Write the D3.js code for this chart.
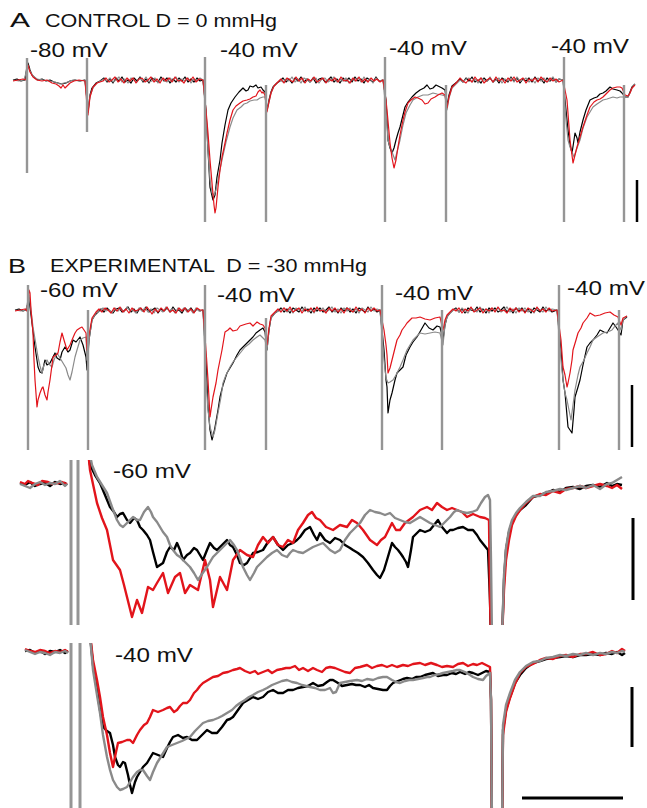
<!DOCTYPE html>
<html>
<head>
<script src="https://cdnjs.cloudflare.com/ajax/libs/d3/7.8.5/d3.min.js"></script>
<style>
  body { margin: 0; background: #fff; }
  svg { display: block; font-family: "Liberation Sans", Arial, sans-serif; }
</style>
</head>
<body>
<svg id="fig" width="647" height="808"></svg>
<script>
// time in ms (t), membrane current in pA (i); one pair per sample

// ---- A: control, four sweeps in a row
const aBlack = [[3,0],[7,10],[11,-10],[15,0],[17,140],[18,170],[20,100],[22,50],[25,20],[28,0],[32,10],[36,-10],[40,0],[44,-20],[48,-30],[52,-40],[56,-30],[60,-10],[65,0],[70,-10],[75,0],[77,-200],[78,-320],[80,-150],[82,-80],[86,-30],[90,-10],
  [94,20],[97,-20],[100,10],[103,-30],[106,20],[109,-10],[112,30],[115,-20],[118,0],[121,-30],[124,20],[127,-10],[130,30],[133,-20],[136,10],[139,-30],[142,20],[145,0],[148,-20],[151,30],[154,-10],[157,20],[160,-30],[163,10],[166,-20],[169,20],[172,-10],[175,30],[178,-20],[181,10],[184,-20],[187,20],[190,-10],[193,0],
  [196,-300],[198,-700],[200,-1070],[203,-1200],[205,-1150],[207,-970],[210,-800],[212,-630],[215,-450],[218,-300],[221,-230],[225,-170],[229,-120],[233,-80],[236,-110],[238,-100],[240,-60],[243,-70],[246,-50],[248,-80],[251,-70],[253,-100],[255,-120],[257,-300],[259,-200],[261,-120],[263,-70],[267,-30],
  [270,-10],[273,20],[276,-20],[279,10],[282,-30],[285,20],[288,-10],[291,30],[294,-20],[297,10],[300,-20],[303,20],[306,-30],[309,10],[312,20],[315,-20],[318,0],[321,30],[324,-20],[327,10],[330,-30],[333,20],[336,-10],[339,20],[342,-20],[345,30],[348,-10],[351,10],[354,-30],[357,20],[360,0],[363,-20],[366,30],[369,-10],[373,0],
  [376,-200],[378,-600],[380,-680],[382,-730],[384,-680],[386,-600],[388,-530],[390,-470],[393,-350],[395,-270],[398,-220],[402,-170],[406,-130],[410,-100],[414,-80],[417,-50],[420,-90],[423,-80],[426,-50],[428,-60],[432,-80],[435,-100],[437,-250],[439,-150],[442,-60],[447,-20],
  [450,10],[453,-20],[456,20],[459,-10],[462,30],[465,-20],[468,0],[471,-30],[474,20],[477,-10],[480,20],[483,-20],[486,10],[489,-30],[492,20],[495,0],[498,-20],[501,30],[504,-10],[507,20],[510,-30],[513,10],[516,-10],[519,20],[522,-20],[525,30],[528,-10],[531,10],[534,-30],[537,20],[540,-10],[543,20],[546,-20],[549,10],[553,0],
  [556,-300],[558,-500],[560,-650],[562,-730],[564,-600],[565,-530],[567,-580],[568,-630],[570,-520],[573,-400],[576,-300],[580,-200],[584,-180],[587,-170],[590,-140],[593,-130],[596,-110],[600,-70],[603,-90],[607,-100],[610,-110],[612,-130],[615,-170],[618,-170],[620,-120],[622,-70],[625,-40]];
const aRed = [[3,-10],[8,0],[13,10],[16,0],[18,150],[20,80],[23,30],[27,0],[32,-10],[37,0],[42,-30],[46,-40],[49,-60],[51,-80],[53,-50],[55,-80],[57,-60],[60,-30],[64,-10],[69,0],[75,-10],[77,-250],[78,-350],[80,-170],[83,-70],[87,-30],
  [93,-10],[96,20],[99,-20],[102,0],[105,30],[108,-20],[111,10],[114,-30],[117,20],[120,-10],[123,20],[126,-30],[129,10],[132,20],[135,-20],[138,0],[141,30],[144,-20],[147,10],[150,-30],[153,20],[156,-10],[159,20],[162,-20],[165,30],[168,-10],[171,0],[174,-30],[177,20],[180,-10],[183,30],[186,-20],[189,10],[193,0],
  [196,-300],[198,-530],[200,-800],[202,-1030],[204,-1250],[205,-1330],[206,-1280],[208,-1070],[210,-900],[212,-770],[215,-630],[217,-530],[220,-400],[223,-300],[226,-260],[230,-230],[233,-210],[237,-200],[240,-190],[243,-170],[246,-160],[248,-120],[250,-100],[252,-130],[253,-120],[255,-150],[257,-320],[259,-220],[261,-130],[264,-60],
  [268,-20],[271,10],[274,-30],[277,20],[280,0],[283,-20],[286,30],[289,-10],[292,20],[295,-30],[298,10],[301,-10],[304,30],[307,-20],[310,0],[313,20],[316,-30],[319,10],[322,-10],[325,20],[328,-20],[331,30],[334,-10],[337,0],[340,-30],[343,20],[346,-10],[349,30],[352,-20],[355,10],[358,-20],[361,20],[364,-10],[367,10],[370,-20],[373,0],
  [376,-200],[377,-300],[380,-630],[382,-780],[384,-880],[386,-800],[388,-670],[390,-550],[393,-400],[395,-320],[398,-230],[401,-200],[405,-170],[408,-180],[412,-200],[415,-240],[418,-230],[421,-190],[425,-170],[428,-150],[432,-130],[435,-150],[437,-280],[439,-170],[442,-70],
  [447,-20],[450,20],[453,-10],[456,-30],[459,10],[462,-20],[465,30],[468,-10],[471,20],[474,-30],[477,0],[480,20],[483,-20],[486,30],[489,-10],[492,10],[495,-30],[498,20],[501,-10],[504,30],[507,-20],[510,0],[513,20],[516,-30],[519,10],[522,-10],[525,20],[528,-20],[531,30],[534,0],[537,-20],[540,20],[543,-10],[546,10],[549,-20],[553,0],
  [556,-150],[557,-200],[560,-600],[563,-830],[565,-750],[567,-670],[570,-570],[573,-470],[577,-350],[580,-270],[584,-220],[587,-200],[590,-190],[593,-170],[597,-130],[600,-100],[603,-80],[607,-70],[610,-70],[612,-80],[615,-150],[618,-160],[620,-130],[622,-80],[625,-50]];
const aGrey = [[3,0],[9,-10],[14,0],[18,140],[20,90],[23,40],[27,10],[33,0],[39,-10],[45,-20],[50,-40],[54,-30],[58,-20],[63,0],[69,-10],[75,0],[77,-200],[78,-300],[80,-160],[83,-80],[87,-30],
  [94,10],[97,-10],[100,20],[103,-20],[106,0],[109,30],[112,-20],[115,10],[118,-30],[121,20],[124,0],[127,-20],[130,20],[133,-10],[136,30],[139,-20],[142,-10],[145,20],[148,-30],[151,10],[154,0],[157,-20],[160,20],[163,-10],[166,30],[169,-20],[172,10],[175,-10],[178,20],[181,-30],[184,10],[187,-10],[190,20],[193,0],
  [196,-350],[198,-700],[200,-1000],[202,-1130],[204,-1150],[206,-1100],[209,-950],[212,-800],[216,-620],[220,-470],[223,-380],[227,-300],[231,-270],[234,-240],[237,-230],[240,-210],[244,-200],[247,-200],[250,-180],[253,-170],[255,-170],[257,-300],[259,-220],[261,-130],[264,-60],[268,-20],
  [270,0],[273,-20],[276,10],[279,-10],[282,30],[285,-20],[288,10],[291,-30],[294,20],[297,0],[300,-20],[303,10],[306,20],[309,-30],[312,10],[315,20],[318,-20],[321,0],[324,30],[327,-20],[330,10],[333,-10],[336,20],[339,-30],[342,10],[345,-10],[348,20],[351,-20],[354,30],[357,-10],[360,10],[363,-30],[366,20],[369,-10],[373,0],
  [376,-300],[378,-600],[380,-670],[382,-720],[385,-800],[387,-720],[390,-600],[393,-450],[396,-330],[400,-250],[403,-200],[408,-170],[413,-150],[418,-150],[423,-130],[427,-140],[432,-150],[435,-160],[437,-300],[439,-180],[442,-80],[447,-30],
  [450,0],[453,-20],[456,10],[459,20],[462,-20],[465,10],[468,-30],[471,20],[474,0],[477,-10],[480,30],[483,-20],[486,0],[489,20],[492,-30],[495,10],[498,-10],[501,20],[504,-20],[507,30],[510,-10],[513,0],[516,20],[519,-20],[522,10],[525,-30],[528,20],[531,-10],[534,20],[537,-20],[540,0],[543,30],[546,-20],[549,10],[553,0],
  [556,-400],[558,-600],[560,-670],[562,-720],[564,-770],[567,-680],[570,-600],[573,-480],[577,-370],[580,-320],[583,-270],[587,-240],[590,-220],[593,-200],[597,-190],[600,-180],[603,-170],[607,-180],[610,-170],[612,-170],[615,-170],[618,-170],[620,-130],[622,-80],[625,-40]];
// stimulus artefacts: [t, top i, bottom i]
const aArtifacts = [[17,220,-930],[77,220,-520],[195,230,-1420],[256,-50,-1420],[375,230,-1420],[436,-50,-1420],[554,230,-1420],[614,-50,-1420]];
const aLabels = ["-80 mV", "-40 mV", "-40 mV", "-40 mV"];
const aLabelAt = [[20,230],[210,230],[379,250],[541,270]];
const aScaleBars = [[627,-1000,627,-1420]];

// ---- B: experimental, four sweeps in a row
const bBlack = [[5,0],[9,10],[13,-10],[16,0],[19,100],[21,-50],[22,-130],[25,-370],[28,-570],[30,-620],[32,-630],[35,-500],[37,-550],[40,-530],[43,-470],[45,-430],[47,-480],[50,-500],[52,-420],[55,-370],[58,-420],[60,-400],[63,-300],[66,-320],[70,-270],[73,-350],[76,-470],[77,-600],[79,-300],[82,-100],
  [85,-50],[88,-20],[91,10],[94,-20],[97,20],[100,-10],[103,-30],[106,10],[109,20],[112,-20],[115,0],[118,30],[121,-20],[124,10],[127,-30],[130,20],[133,-10],[136,30],[139,-20],[142,0],[145,20],[148,-30],[151,10],[154,-10],[157,20],[160,-20],[163,30],[166,-10],[169,0],[172,-30],[175,20],[178,-10],[181,20],[184,-20],[187,10],[190,-10],[193,0],
  [196,-500],[198,-970],[200,-1200],[202,-1300],[204,-1220],[205,-1170],[208,-1000],[210,-870],[213,-750],[217,-630],[220,-580],[223,-530],[227,-450],[230,-400],[233,-370],[237,-330],[240,-300],[243,-270],[246,-230],[250,-200],[253,-180],[255,-220],[257,-400],[259,-200],[261,-80],
  [265,-30],[268,-10],[271,20],[274,-20],[277,10],[280,-30],[283,20],[286,0],[289,-20],[292,30],[295,-10],[298,10],[301,-30],[304,20],[307,-10],[310,20],[313,-20],[316,0],[319,30],[322,-20],[325,10],[328,-30],[331,20],[334,-10],[337,20],[340,-20],[343,10],[346,-30],[349,20],[352,0],[355,-20],[358,30],[361,-10],[364,10],[367,-20],[370,0],
  [374,-400],[376,-700],[377,-770],[378,-1030],[380,-900],[382,-830],[385,-700],[387,-630],[390,-600],[393,-570],[396,-450],[400,-370],[403,-320],[407,-270],[411,-200],[415,-130],[419,-180],[423,-200],[427,-160],[430,-170],[433,-300],[435,-150],[437,-70],
  [440,-30],[443,0],[446,20],[449,-20],[452,10],[455,-30],[458,20],[461,0],[464,-10],[467,30],[470,-20],[473,10],[476,-30],[479,20],[482,-10],[485,20],[488,-20],[491,0],[494,30],[497,-20],[500,10],[503,-30],[506,20],[509,-10],[512,20],[515,-20],[518,10],[521,-30],[524,20],[527,0],[530,-20],[533,30],[536,-10],[539,10],[542,-20],[547,0],
  [551,-400],[553,-700],[555,-830],[558,-1170],[560,-1200],[562,-1230],[564,-1000],[565,-870],[568,-770],[570,-700],[573,-550],[577,-370],[580,-330],[583,-300],[587,-250],[590,-200],[594,-220],[597,-230],[600,-180],[603,-130],[606,-170],[608,-200],[611,-250],[613,-100],[617,-70]];
const bRed = [[5,-10],[10,0],[15,10],[17,-10],[19,200],[20,170],[21,0],[23,-230],[24,-500],[25,-700],[27,-970],[28,-900],[30,-830],[32,-780],[33,-770],[35,-850],[37,-900],[38,-820],[40,-700],[42,-550],[43,-470],[46,-450],[48,-430],[50,-320],[52,-230],[54,-300],[57,-400],[60,-350],[62,-300],[65,-230],[67,-200],[70,-180],[72,-170],[74,-200],[76,-230],[77,-400],[79,-250],[82,-80],
  [86,-20],[89,10],[92,-20],[95,20],[98,0],[101,-30],[104,20],[107,-10],[110,30],[113,-20],[116,10],[119,-30],[122,20],[125,-10],[128,0],[131,20],[134,-20],[137,30],[140,-10],[142,-40],[145,10],[148,-20],[151,20],[154,-10],[157,30],[160,-20],[163,0],[166,-30],[169,20],[172,-10],[175,20],[178,-20],[181,10],[184,-30],[187,20],[190,0],[193,0],
  [196,-400],[198,-700],[200,-1070],[201,-1000],[203,-870],[206,-730],[208,-600],[210,-500],[212,-400],[214,-280],[215,-220],[218,-200],[220,-180],[223,-210],[227,-200],[230,-160],[233,-150],[236,-140],[240,-130],[243,-160],[247,-120],[250,-140],[253,-150],[255,-180],[257,-350],[259,-180],[261,-60],
  [265,-20],[268,10],[271,-20],[274,20],[277,-10],[280,30],[283,-20],[286,0],[289,20],[292,-30],[295,10],[298,-10],[301,20],[304,-20],[307,30],[310,-10],[313,0],[316,-30],[319,20],[322,-10],[325,20],[328,-20],[331,10],[334,-30],[337,20],[340,0],[343,-20],[346,30],[349,-10],[352,10],[355,-30],[358,20],[361,-10],[364,20],[367,-10],[370,0],
  [374,-200],[376,-350],[377,-450],[378,-630],[380,-580],[382,-500],[385,-380],[387,-300],[390,-250],[392,-200],[395,-160],[397,-130],[400,-100],[402,-80],[406,-80],[410,-70],[415,-90],[420,-100],[425,-80],[430,-70],[433,-200],[435,-100],[437,-50],
  [440,-20],[443,10],[446,-10],[449,20],[452,-30],[455,10],[458,-10],[461,30],[464,-20],[467,0],[470,20],[473,-30],[476,10],[479,-10],[482,20],[485,-20],[488,30],[491,-10],[494,0],[497,-30],[500,20],[503,-10],[506,20],[509,-20],[512,10],[515,-30],[518,20],[521,0],[524,-20],[527,30],[530,-10],[533,10],[536,-20],[539,20],[542,-10],[547,0],
  [551,-300],[553,-570],[555,-650],[557,-770],[558,-730],[560,-630],[562,-500],[563,-400],[566,-300],[568,-230],[571,-180],[573,-130],[577,-80],[580,-30],[585,-60],[590,-50],[595,-30],[600,-20],[604,-50],[608,-70],[611,-150],[613,-80],[617,-60]];
const bGrey = [[5,0],[11,-10],[16,0],[19,150],[21,0],[23,-170],[26,-350],[28,-470],[30,-560],[32,-630],[34,-550],[37,-500],[39,-540],[42,-570],[44,-500],[47,-430],[50,-480],[53,-530],[56,-580],[58,-650],[60,-700],[62,-620],[65,-470],[67,-400],[70,-300],[73,-280],[76,-270],[77,-500],[79,-300],[82,-100],
  [86,-30],[90,-10],[93,20],[96,-10],[99,0],[102,-30],[105,20],[108,-10],[111,20],[114,-20],[117,30],[120,-10],[123,0],[126,-30],[129,20],[132,-10],[135,20],[138,-20],[141,10],[144,-30],[147,20],[150,0],[153,-20],[156,30],[159,-10],[162,10],[165,-30],[168,20],[171,-10],[174,20],[177,-20],[180,10],[183,-30],[186,20],[189,-10],[193,0],
  [196,-700],[198,-1000],[200,-1170],[203,-1270],[205,-1200],[208,-1030],[211,-870],[213,-730],[216,-650],[220,-570],[223,-520],[227,-470],[231,-420],[235,-370],[239,-340],[243,-300],[247,-270],[250,-250],[253,-280],[255,-300],[257,-400],[259,-200],[261,-80],
  [265,-30],[268,-10],[271,0],[274,20],[277,-20],[280,10],[283,-30],[286,20],[289,0],[292,-10],[295,30],[298,-20],[301,10],[304,-30],[307,20],[310,-10],[313,20],[316,-20],[319,0],[322,30],[325,-20],[328,10],[331,-30],[334,20],[337,-10],[340,20],[343,-20],[346,10],[349,-30],[352,20],[355,0],[358,-20],[361,30],[364,-10],[367,10],[370,0],
  [374,-500],[376,-680],[378,-730],[380,-720],[383,-700],[386,-650],[390,-570],[393,-500],[397,-400],[400,-350],[403,-300],[407,-260],[410,-230],[415,-240],[420,-230],[425,-220],[430,-230],[433,-350],[435,-150],[437,-70],
  [440,-30],[443,0],[446,10],[449,-20],[452,20],[455,-10],[458,-30],[461,20],[464,0],[467,-20],[470,30],[473,-10],[476,10],[479,-30],[482,20],[485,-10],[488,20],[491,-20],[494,0],[497,30],[500,-20],[503,10],[506,-30],[509,20],[512,-10],[515,20],[518,-20],[521,10],[524,-30],[527,20],[530,0],[533,-20],[536,30],[539,-10],[542,10],[547,0],
  [551,-500],[553,-700],[555,-830],[557,-900],[559,-1000],[561,-1100],[563,-950],[565,-800],[568,-650],[570,-570],[574,-500],[577,-430],[580,-370],[583,-300],[587,-270],[590,-250],[593,-230],[597,-220],[600,-210],[602,-200],[605,-160],[608,-130],[611,-200],[613,-100],[617,-60]];
const bArtifacts = [[18,250,-1400],[78,0,-1400],[195,250,-1400],[256,-80,-1400],[372,250,-1400],[432,0,-1400],[549,250,-1400],[609,0,-1400]];
const bLabels = ["-60 mV", "-40 mV", "-40 mV", "-40 mV"];
const bLabelAt = [[30,130],[207,80],[385,100],[557,150]];
const bScaleBars = [[622,-750,622,-1370]];

// ---- C: -60 mV sweep, expanded
const cBlackPre = [[10,0],[15,-20],[20,10],[25,-30],[30,-10],[35,0],[40,-30],[45,10],[50,-10],[55,0],[57,-20]];
const cGreyPre = [[10,-10],[15,-30],[20,-50],[25,-10],[30,10],[35,-20],[40,0],[45,-10],[50,20],[55,-30],[57,-10]];
const cRedPre = [[10,10],[15,-10],[18,20],[22,0],[28,-20],[32,20],[38,10],[42,-10],[48,0],[52,10],[57,-10]];
const cRed = [[77,430],[80,130],[87,-200],[92,-350],[97,-470],[103,-770],[110,-870],[114,-1020],[117,-1140],[122,-1340],[127,-1170],[132,-1300],[138,-1040],[143,-1070],[147,-1000],[153,-900],[158,-1100],[165,-940],[170,-900],[175,-1100],[180,-1020],[188,-1070],[195,-770],[200,-970],[203,-1240],[210,-940],[217,-1070],[223,-770],[230,-670],[237,-720],[243,-740],[248,-620],[253,-540],[258,-600],[263,-540],[268,-620],[273,-640],[278,-570],[283,-600],[288,-470],[293,-400],[298,-320],[302,-290],[306,-350],[310,-370],[316,-440],[323,-470],[330,-420],[337,-440],[342,-370],[347,-400],[353,-470],[360,-570],[367,-620],[371,-570],[375,-540],[382,-400],[386,-470],[390,-470],[395,-400],[399,-370],[403,-340],[410,-270],[417,-240],[422,-270],[427,-200],[432,-240],[437,-270],[442,-250],[447,-270],[452,-290],[457,-340],[463,-310],[470,-340],[475,-350],[479,-370],[480,-1170],[481,-1570]];
const cBlack = [[77,430],[80,180],[85,80],[90,0],[95,-120],[100,-240],[104,-290],[107,-340],[110,-310],[113,-300],[117,-370],[120,-400],[124,-350],[127,-370],[130,-440],[133,-470],[137,-520],[140,-570],[143,-690],[147,-840],[150,-820],[153,-800],[157,-690],[160,-640],[164,-670],[167,-600],[170,-670],[173,-770],[177,-720],[180,-700],[184,-650],[187,-670],[190,-720],[193,-770],[197,-670],[200,-600],[204,-650],[207,-670],[212,-620],[217,-570],[220,-620],[223,-640],[227,-720],[230,-800],[234,-820],[237,-800],[240,-750],[243,-700],[248,-690],[253,-670],[258,-590],[263,-540],[268,-620],[273,-670],[278,-620],[283,-600],[287,-570],[290,-540],[295,-470],[300,-440],[304,-520],[307,-570],[310,-500],[315,-570],[320,-600],[325,-550],[330,-570],[335,-620],[340,-650],[343,-670],[348,-700],[353,-740],[358,-800],[363,-870],[367,-920],[370,-950],[374,-870],[377,-770],[382,-600],[385,-640],[388,-670],[391,-710],[393,-740],[396,-790],[398,-840],[401,-670],[403,-540],[407,-500],[410,-470],[415,-490],[420,-470],[424,-420],[428,-370],[432,-440],[437,-500],[440,-470],[443,-470],[448,-450],[453,-440],[458,-470],[463,-470],[467,-520],[470,-570],[474,-620],[478,-670],[480,-1170],[481,-1570]];
const cGrey = [[77,430],[82,180],[87,60],[92,-20],[97,-100],[102,-240],[107,-370],[110,-420],[113,-440],[118,-390],[123,-340],[127,-370],[130,-370],[134,-290],[138,-240],[141,-290],[143,-340],[147,-390],[150,-440],[153,-490],[157,-540],[160,-620],[163,-670],[167,-720],[170,-740],[175,-790],[180,-840],[184,-900],[188,-970],[192,-910],[197,-840],[200,-790],[203,-740],[207,-700],[210,-670],[215,-620],[220,-570],[224,-620],[227,-670],[230,-750],[233,-840],[237,-920],[240,-970],[244,-900],[247,-840],[252,-790],[257,-740],[262,-700],[267,-670],[272,-720],[277,-740],[280,-700],[283,-670],[288,-690],[293,-700],[298,-670],[303,-640],[308,-620],[313,-600],[317,-640],[320,-670],[325,-700],[330,-670],[335,-570],[340,-500],[345,-450],[350,-400],[355,-320],[360,-270],[365,-290],[370,-300],[375,-320],[380,-300],[385,-350],[390,-370],[395,-390],[400,-400],[405,-370],[410,-340],[415,-370],[420,-400],[425,-420],[430,-440],[435,-390],[440,-340],[444,-290],[447,-270],[452,-290],[457,-300],[462,-290],[467,-270],[471,-200],[475,-140],[478,-120],[480,-170],[481,-770],[482,-1570]];
const cBlackRec = [[492,-1570],[494,-970],[496,-670],[499,-490],[502,-400],[506,-320],[510,-270],[516,-220],[523,-140],[530,-120],[536,-100],[543,-70],[550,-90],[556,-50],[563,-40],[570,-60],[576,-30],[583,-20],[590,-40],[597,0],[602,-30],[607,-10],[612,-20]];
const cRedRec = [[492,-1570],[494,-1070],[496,-770],[499,-570],[502,-420],[506,-330],[510,-270],[516,-200],[523,-140],[530,-110],[536,-120],[543,-80],[550,-100],[556,-60],[563,-50],[570,-30],[576,-50],[583,-30],[590,-10],[597,-30],[602,-50],[607,-20],[612,-60]];
const cGreyRec = [[492,-1570],[494,-920],[496,-650],[499,-470],[502,-370],[506,-300],[510,-250],[516,-190],[523,-130],[530,-130],[536,-90],[543,-80],[550,-60],[556,-70],[563,-50],[570,-30],[576,-50],[583,-20],[590,-60],[597,-10],[602,0],[607,30],[612,60]];
const cArtifacts = [[61,230,-1420],[68,230,-1420]];
const cLabels = ["-60 mV"];
const cLabelAt = [[103,50]];
const cScaleBars = [[623,-350,623,-1170]];

// ---- D: -40 mV sweep, expanded
const dBlackPre = [[15,0],[20,10],[25,-20],[30,0],[35,-30],[40,0],[45,-10],[50,10],[55,-20],[58,0]];
const dGreyPre = [[15,10],[20,-10],[25,-30],[30,-10],[35,-20],[40,-40],[45,-10],[50,-20],[55,0],[58,-20]];
const dRedPre = [[15,20],[20,0],[25,-10],[30,10],[35,0],[40,-20],[45,0],[50,-10],[55,10],[58,-10]];
const dRed = [[79,260],[83,-90],[87,-290],[90,-460],[93,-660],[97,-840],[100,-1020],[103,-1160],[106,-1010],[108,-920],[112,-910],[117,-890],[120,-890],[123,-920],[127,-840],[130,-790],[134,-740],[137,-720],[140,-660],[143,-590],[148,-610],[153,-590],[157,-570],[160,-560],[164,-610],[167,-590],[170,-550],[173,-520],[177,-520],[180,-490],[184,-420],[187,-390],[190,-350],[193,-320],[198,-290],[203,-260],[208,-250],[213,-220],[218,-210],[223,-190],[227,-180],[230,-170],[235,-200],[240,-220],[245,-200],[248,-230],[253,-210],[258,-190],[262,-220],[267,-190],[272,-180],[276,-170],[280,-170],[285,-150],[289,-190],[293,-170],[298,-200],[303,-170],[307,-190],[312,-210],[316,-170],[320,-160],[325,-170],[330,-190],[335,-210],[340,-220],[345,-170],[350,-160],[357,-140],[362,-170],[367,-150],[372,-140],[377,-160],[382,-140],[387,-160],[393,-140],[398,-150],[403,-130],[410,-120],[415,-140],[421,-120],[427,-140],[432,-160],[437,-150],[443,-160],[448,-130],[453,-120],[458,-150],[463,-130],[467,-140],[472,-120],[476,-140],[480,-160],[481,-490],[482,-1790]];
const dBlack = [[79,260],[83,-140],[87,-390],[90,-590],[93,-760],[97,-800],[100,-820],[103,-940],[105,-1060],[108,-1140],[110,-1160],[113,-1110],[115,-1120],[118,-1240],[120,-1340],[122,-1420],[125,-1310],[127,-1260],[130,-1210],[133,-1160],[137,-1120],[140,-1070],[143,-1020],[148,-1040],[153,-1060],[157,-970],[160,-910],[163,-860],[168,-840],[173,-870],[177,-860],[182,-890],[187,-890],[192,-840],[197,-790],[202,-820],[207,-820],[212,-760],[217,-690],[220,-680],[223,-660],[228,-590],[233,-520],[238,-490],[243,-460],[248,-480],[253,-460],[258,-410],[263,-390],[268,-420],[273,-420],[278,-390],[283,-390],[288,-370],[293,-360],[298,-350],[303,-320],[308,-350],[313,-340],[317,-310],[320,-290],[323,-290],[328,-320],[332,-350],[337,-340],[342,-330],[346,-340],[350,-340],[355,-360],[359,-340],[363,-370],[368,-380],[373,-390],[377,-390],[380,-350],[383,-320],[388,-300],[393,-280],[397,-270],[402,-280],[406,-260],[410,-260],[415,-240],[419,-230],[423,-220],[428,-250],[433,-240],[437,-240],[442,-220],[446,-230],[450,-210],[455,-230],[459,-210],[463,-220],[468,-240],[472,-220],[476,-200],[480,-210],[481,-490],[482,-1790]];
const dGrey = [[79,260],[83,-190],[87,-440],[90,-620],[93,-840],[97,-1060],[100,-1190],[103,-1290],[107,-1360],[110,-1390],[113,-1380],[117,-1360],[120,-1310],[123,-1260],[127,-1210],[130,-1190],[133,-1190],[137,-1250],[140,-1290],[143,-1210],[147,-1120],[152,-1040],[157,-960],[162,-940],[167,-920],[172,-900],[176,-880],[180,-860],[185,-800],[189,-760],[193,-720],[198,-700],[203,-690],[208,-670],[212,-650],[217,-620],[222,-590],[226,-550],[230,-520],[235,-490],[239,-460],[243,-440],[248,-410],[253,-390],[257,-370],[262,-340],[267,-320],[272,-300],[277,-290],[282,-310],[287,-320],[292,-340],[296,-350],[300,-360],[305,-370],[310,-390],[315,-390],[320,-370],[323,-420],[326,-410],[330,-320],[335,-310],[340,-300],[347,-290],[352,-300],[357,-280],[363,-290],[368,-270],[373,-260],[377,-260],[382,-290],[386,-310],[390,-320],[395,-300],[399,-290],[403,-290],[408,-280],[413,-270],[417,-260],[420,-260],[425,-240],[430,-230],[433,-220],[438,-210],[443,-200],[447,-190],[450,-190],[455,-210],[460,-240],[463,-260],[468,-280],[473,-290],[476,-250],[480,-220],[481,-490],[482,-1790]];
const dBlackRec = [[492,-1790],[493,-790],[496,-590],[500,-460],[505,-320],[510,-240],[516,-170],[523,-120],[530,-100],[536,-80],[543,-70],[550,-60],[556,-50],[563,-60],[570,-40],[576,-40],[583,-30],[590,-40],[596,-20],[602,-30],[607,-10],[612,-40],[615,-20]];
const dRedRec = [[492,-1790],[493,-840],[496,-610],[500,-470],[505,-330],[510,-220],[516,-160],[523,-130],[530,-90],[536,-70],[543,-80],[550,-50],[556,-40],[563,-60],[570,-30],[576,-30],[583,-10],[590,-40],[596,-30],[602,0],[607,-20],[612,20],[615,0]];
const dGreyRec = [[492,-1790],[493,-740],[496,-540],[500,-420],[505,-290],[510,-210],[516,-150],[523,-110],[530,-100],[536,-70],[543,-60],[550,-40],[556,-50],[563,-30],[570,-40],[576,-20],[583,-40],[590,-20],[596,-30],[602,-10],[607,-20],[612,0],[615,-10]];
const dArtifacts = [[61,80,-1570],[70,80,-1570]];
const dLabels = ["-40 mV"];
const dLabelAt = [[105,-110]];
const dScaleBars = [[622,-360,622,-960],[512,-1470,613,-1470]];

const colour = { black: "#000000", grey: "#8a8a8a", red: "#e2141b" };

const panels = [
  { id: "A", tDomain: [0, 627], xRange: [10, 637], iDomain: [-1450, 250], yRange: [225, 55], width: 1.2, artW: 2.4, clip: false,
    traces: [[aBlack, "black"], [aGrey, "grey"], [aRed, "red"]],
    artifacts: aArtifacts, labels: aLabels, labelAt: aLabelAt, bars: aScaleBars, barW: 2.5 },
  { id: "B", tDomain: [0, 627], xRange: [10, 637], iDomain: [-1450, 300], yRange: [455, 280], width: 1.2, artW: 2.4, clip: false,
    traces: [[bBlack, "black"], [bGrey, "grey"], [bRed, "red"]],
    artifacts: bArtifacts, labels: bLabels, labelAt: bLabelAt, bars: bScaleBars, barW: 2.5 },
  { id: "C", tDomain: [0, 627], xRange: [10, 637], iDomain: [-1420, 230], yRange: [625, 460], width: 2.4, artW: 3, clip: true,
    traces: [[cBlackPre, "black"], [cBlack, "black"], [cBlackRec, "black"], [cRedPre, "red"], [cRed, "red"], [cRedRec, "red"],
             [cGreyPre, "grey"], [cGrey, "grey"], [cGreyRec, "grey"]],
    artifacts: cArtifacts, labels: cLabels, labelAt: cLabelAt, bars: cScaleBars, barW: 3 },
  { id: "D", tDomain: [0, 627], xRange: [10, 637], iDomain: [-1570, 80], yRange: [808, 643], width: 2.4, artW: 3, clip: true,
    traces: [[dBlackPre, "black"], [dBlack, "black"], [dBlackRec, "black"], [dRedPre, "red"], [dRed, "red"], [dRedRec, "red"],
             [dGreyPre, "grey"], [dGrey, "grey"], [dGreyRec, "grey"]],
    artifacts: dArtifacts, labels: dLabels, labelAt: dLabelAt, bars: dScaleBars, barW: 3 }
];

const svg = d3.select("#fig");

panels.forEach(p => {
  const x = d3.scaleLinear().domain(p.tDomain).range(p.xRange);
  const y = d3.scaleLinear().domain(p.iDomain).range(p.yRange);
  const line = d3.line().x(d => x(d[0])).y(d => y(d[1]));
  const g = svg.append("g").attr("id", "panel" + p.id);
  let body = g;
  if (p.clip) {
    g.append("clipPath").attr("id", "clip" + p.id)
      .append("rect")
      .attr("x", 0).attr("y", p.yRange[1])
      .attr("width", 647).attr("height", p.yRange[0] - p.yRange[1]);
    body = g.append("g").attr("clip-path", "url(#clip" + p.id + ")");
  }
  body.selectAll("path.trace")
    .data(p.traces)
    .join("path")
    .attr("class", "trace")
    .attr("fill", "none")
    .attr("stroke", d => colour[d[1]])
    .attr("stroke-width", p.width)
    .attr("stroke-linejoin", "round")
    .attr("d", d => line(d[0]));
  body.selectAll("line.artifact")
    .data(p.artifacts)
    .join("line")
    .attr("class", "artifact")
    .attr("x1", d => x(d[0])).attr("x2", d => x(d[0]))
    .attr("y1", d => y(d[1])).attr("y2", d => y(d[2]))
    .attr("stroke", "#959595")
    .attr("stroke-width", p.artW);
  g.selectAll("text.vlabel")
    .data(p.labels)
    .join("text")
    .attr("class", "vlabel")
    .attr("x", (d, k) => x(p.labelAt[k][0]))
    .attr("y", (d, k) => y(p.labelAt[k][1]))
    .attr("font-size", 21)
    .attr("textLength", 78)
    .attr("lengthAdjust", "spacingAndGlyphs")
    .attr("fill", "#111")
    .text(d => d);
  g.selectAll("line.bar")
    .data(p.bars)
    .join("line")
    .attr("class", "bar")
    .attr("x1", d => x(d[0])).attr("y1", d => y(d[1]))
    .attr("x2", d => x(d[2])).attr("y2", d => y(d[3]))
    .attr("stroke", "#000")
    .attr("stroke-width", p.barW);
});

// panel headings
const headings = [
  { text: "A", x: 10, y: 27, size: 20, len: 20 },
  { text: "CONTROL D = 0 mmHg", x: 45, y: 27, size: 18, len: 232 },
  { text: "B", x: 8, y: 273, size: 21, len: 18 },
  { text: "EXPERIMENTAL  D = -30 mmHg", x: 50, y: 272, size: 18, len: 317 }
];
svg.selectAll("text.head")
  .data(headings)
  .join("text")
  .attr("class", "head")
  .attr("x", d => d.x).attr("y", d => d.y)
  .attr("font-size", d => d.size)
  .attr("textLength", d => d.len)
  .attr("lengthAdjust", "spacingAndGlyphs")
  .style("white-space", "pre")
  .attr("fill", "#111")
  .text(d => d.text);
</script>
</body>
</html>
